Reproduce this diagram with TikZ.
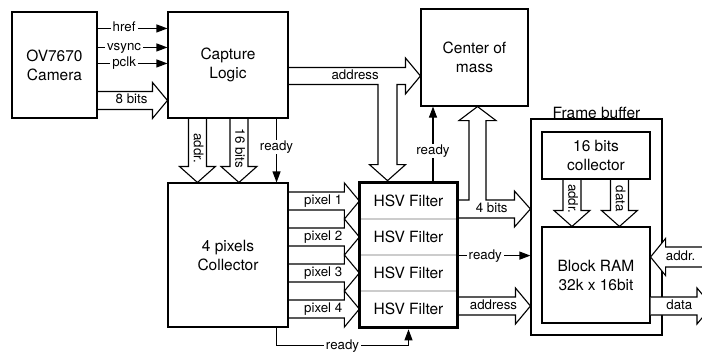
\documentclass[tikz,border=0pt]{standalone}
\usepackage{fontspec}
\setmainfont{TeX Gyre Heros}
\usetikzlibrary{arrows.meta,calc,fit}

\newcommand{\grande}{\fontsize{15.5}{19}\selectfont}
\newcommand{\chica}{\fontsize{13.3}{15}\selectfont}

% buses (flechas anchas)
\newcommand{\busder}[4][]{%
  \draw[bus,#1] ($(#2)+(0,-9)$) -- ($(#3)+(-15,-9)$) -- ($(#3)+(-15,-18)$) -- (#3)
    -- ($(#3)+(-15,18)$) -- ($(#3)+(-15,9)$) -- ($(#2)+(0,9)$);
  \path (#2) -- node[etiqueta, pos=.62] {#4} ($(#3)+(-15,0)$);
}
\newcommand{\busizq}[4][]{%
  \draw[bus,#1] ($(#2)+(0,-10)$) -- ($(#3)+(15,-10)$) -- ($(#3)+(15,-18.5)$) -- (#3)
    -- ($(#3)+(15,18.5)$) -- ($(#3)+(15,10)$) -- ($(#2)+(0,10)$);
  \path (#2) -- node[etiqueta, pos=.62] {#4} ($(#3)+(15,0)$);
}
\newcommand{\busabajo}[4][]{%
  \draw[bus,#1] ($(#2)+(-9,0)$) -- ($(#3)+(-9,-16)$) -- ($(#3)+(-18,-16)$) -- (#3)
    -- ($(#3)+(18,-16)$) -- ($(#3)+(9,-16)$) -- ($(#2)+(9,0)$);
  \path (#2) -- node[etiqueta, rotate=-90, pos=.62] {#4} ($(#3)+(0,-16)$);
}

\begin{document}
\begin{tikzpicture}[
        x=1pt, y=-1pt,
        caja/.style={draw, line width=1.1pt, align=center, font=\grande},
        fila/.style={draw=gray!40, line width=1.2pt, minimum width=97, minimum height=36, font=\grande},
        senal/.style={line width=1.1pt, -{Triangle[length=11pt,width=8pt]}},
        bus/.style={draw, line width=1.1pt, line join=miter},
        etiqueta/.style={font=\chica, inner sep=1pt, text height=9.5pt, text depth=2.5pt},
        sobre/.style={etiqueta, fill=white, inner xsep=2pt}
    ]
        \useasboundingbox (0,0) rectangle (702,356);
        \clip (0,0) rectangle (702,356);

        % Bloques
        \node[caja, minimum width=85, minimum height=106] (cam) at (54.5,65) {OV7670\\Camera};
        \node[caja, minimum width=120, minimum height=106] (cap) at (228,65) {Capture\\Logic};
        \node[caja, minimum width=107, minimum height=97] (com) at (474.5,57.5) {Center of\\mass};
        \node[caja, minimum width=120, minimum height=144] (col) at (228,255) {4 pixels\\Collector};

        % Filtros HSV
        \node[fila] (hsv1) at (408.5,201) {HSV Filter};
        \node[fila] (hsv2) at (408.5,237) {HSV Filter};
        \node[fila] (hsv3) at (408.5,273) {HSV Filter};
        \node[fila] (hsv4) at (408.5,309) {HSV Filter};
        \node[fit=(hsv1)(hsv4), inner sep=0, draw, line width=3.5pt] (hsv) {};

        % Frame buffer
        \node[caja, minimum width=131, minimum height=216, label distance=6pt,
              label={[font=\grande, inner sep=0]above:Frame buffer}] (fb) at (596.5,227) {};
        \node[caja, minimum width=108, minimum height=47] (col16) at (596,155.5) {16 bits\\collector};
        \node[caja, minimum width=108, minimum height=96] (ram) at (596,275) {Block RAM\\32k x 16bit};

        % Senales de la camara
        \draw[senal] ($(cam.north east)+(0,17)$) -- node[sobre, pos=.38] {href} ($(cap.north west)+(0,17)$);
        \draw[senal] ($(cam.north east)+(0,36)$) -- node[sobre, pos=.38] {vsync} ($(cap.north west)+(0,36)$);
        \draw[senal] ($(cam.north east)+(0,52)$) -- node[sobre, pos=.38] {pclk} ($(cap.north west)+(0,52)$);
        \coordinate (ocho) at ($(cam.north east)+(0,89)$);
        \busder{ocho}{cap.west |- ocho}{8 bits}

        % Captura -> colector
        \coordinate (b1) at ($(cap.south west)+(30,0)$);
        \coordinate (b2) at ($(cap.south west)+(71.5,0)$);
        \busabajo{b1}{col.north -| b1}{addr.}
        \busabajo{b2}{col.north -| b2}{16 bits}
        \coordinate (rc) at ($(cap.south east)+(-12,0)$);
        \draw[senal] (rc) -- node[sobre, pos=.45] {ready} (col.north -| rc);

        % Bus de direccion (en T)
        \coordinate (dir) at ($(cap.north east)+(0,64.5)$);
        \coordinate (baj) at ($(hsv.north)+(-21,0)$);
        \draw[bus] ($(dir)+(0,-8.5)$) -- ($(com.west |- dir)+(-15,-8.5)$) -- ($(com.west |- dir)+(-15,-18)$)
            -- (com.west |- dir) -- ($(com.west |- dir)+(-15,18)$) -- ($(com.west |- dir)+(-15,8.5)$)
            -- ($(baj |- dir)+(9.5,8.5)$) -- ($(baj)+(9.5,-16)$) -- ($(baj)+(18,-16)$) -- (baj)
            -- ($(baj)+(-18,-16)$) -- ($(baj)+(-9.5,-16)$) -- ($(baj |- dir)+(-9.5,8.5)$) -- ($(dir)+(0,8.5)$);
        \path (dir) -- node[etiqueta, pos=.57] {address} ($(com.west |- dir)+(-15,0)$);

        % Pixeles
        \busder{col.east |- hsv1}{hsv1.west}{pixel 1}
        \busder{col.east |- hsv2}{hsv2.west}{pixel 2}
        \busder{col.east |- hsv3}{hsv3.west}{pixel 3}
        \busder{col.east |- hsv4}{hsv4.west}{pixel 4}
        \coordinate (rb) at ($(col.south east)+(-12,0)$);
        \draw[senal] (rb) -- ++(0,18) -| node[sobre, pos=.25] {ready} (hsv.south);

        % Salidas del filtro
        \coordinate (listo) at ($(hsv.north)+(24.5,0)$);
        \draw[senal] (listo) -- node[sobre, pos=.4] {ready} (com.south -| listo);
        \coordinate (cuatro) at ($(hsv1.east)+(0,8)$);
        \coordinate (sub) at ($(com.south)+(3,0)$);
        \draw[bus] ($(cuatro)+(0,9)$) -- ($(fb.west |- cuatro)+(-16,9)$) -- ($(fb.west |- cuatro)+(-16,18)$)
            -- (fb.west |- cuatro) -- ($(fb.west |- cuatro)+(-16,-18)$) -- ($(fb.west |- cuatro)+(-16,-9)$)
            -- ($(sub |- cuatro)+(8.5,-9)$) -- ($(sub)+(8.5,14)$) -- ($(sub)+(18.5,14)$) -- (sub)
            -- ($(sub)+(-18.5,14)$) -- ($(sub)+(-8.5,14)$) -- ($(sub |- cuatro)+(-8.5,-9)$) -- ($(cuatro)+(0,-9)$);
        \path (cuatro) -- node[etiqueta, pos=.6] {4 bits} ($(fb.west |- cuatro)+(-16,0)$);
        \draw[senal] (hsv2.south east) -- node[sobre, pos=.38] {ready} (fb.west |- hsv2.south east);
        \coordinate (dirfb) at ($(hsv4.east)+(0,-3)$);
        \busder{dirfb}{fb.west |- dirfb}{address}

        % Dentro del frame buffer
        \coordinate (c1) at ($(col16.south west)+(30.5,0)$);
        \coordinate (c2) at ($(col16.south west)+(78,0)$);
        \busabajo{c1}{ram.north -| c1}{addr.}
        \busabajo{c2}{ram.north -| c2}{data}

        % Puertos externos de la RAM
        \coordinate (addrfin) at (705,257);
        \coordinate (datafin) at (712,306);
        \busizq[fill=white]{addrfin}{ram.east |- addrfin}{addr.}
        \busder[fill=white]{ram.east |- datafin}{datafin}{data}
    \end{tikzpicture}
\end{document}
